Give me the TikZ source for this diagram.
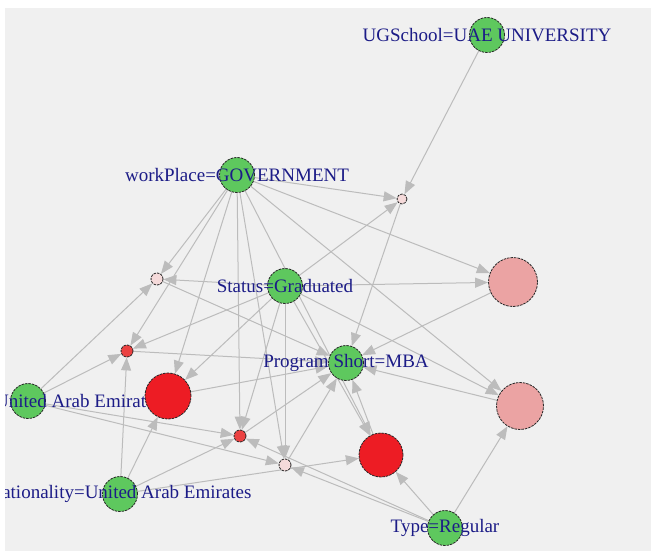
\documentclass[tikz,border=0pt]{standalone}
\usepackage{fontspec}
\setmainfont{Liberation Serif}
\usetikzlibrary{arrows.meta}
\definecolor{panelgray}{RGB}{240,240,240}
\definecolor{linkgray}{RGB}{188,188,188}
\definecolor{itemgreen}{RGB}{94,200,94}
\definecolor{rulered}{RGB}{237,28,36}
\definecolor{rulemid}{RGB}{235,66,66}
\definecolor{rulepink}{RGB}{235,163,163}
\definecolor{rulepale}{RGB}{245,218,218}
\definecolor{lbltext}{RGB}{28,28,135}
\pgfdeclarelayer{back}
\pgfdeclarelayer{wires}
\pgfsetlayers{back,wires,main}

\begin{document}
\begin{tikzpicture}[x=1pt,y=-1pt,
  item/.style={circle,fill=itemgreen,draw=black!85,line width=0.8pt,dash pattern=on 2.5pt off 1pt,minimum size=35pt,inner sep=0pt},
  rule/.style={circle,draw=black!85,line width=0.8pt,dash pattern=on 2.5pt off 1pt,minimum size=#1,inner sep=0pt},
  lbl/.style={text=lbltext,font=\fontsize{19}{22}\selectfont,inner sep=0pt},
  link/.style={draw=linkgray,line width=1pt,-{Triangle[length=13pt,width=10pt]}}]
  \useasboundingbox (0,0) rectangle (651,551);
  \begin{pgfonlayer}{back}
    \fill[white] (0,0) rectangle (651,551);
    \fill[panelgray] (5,8) rectangle (651,551);
  \end{pgfonlayer}
  \begin{scope}
  \clip (5,8) rectangle (651,551);
  % items
  \node[item] (UGS) at (487,35) {};
  \node[item] (WP) at (237,175) {};
  \node[item] (ST) at (285,286) {};
  \node[item] (PS) at (346,363) {};
  \node[item] (UAE) at (28,401) {};
  \node[item] (NAT) at (120,494) {};
  \node[item] (TYP) at (445,528) {};
  \node[lbl] (UGSl) at (UGS) {UGSchool=UAE UNIVERSITY};
  \node[lbl] (WPl) at (WP) {workPlace=GOVERNMENT};
  \node[lbl] (STl) at (ST) {Status=Graduated};
  \node[lbl] (PSl) at (PS) {Program Short=MBA};
  \node[lbl,anchor=west] (UAEl) at (-5,401) {United Arab Emirates};
  \node[lbl] (NATl) at (NAT) {Nationality=United Arab Emirates};
  \node[lbl] (TYPl) at (TYP) {Type=Regular};
  % rules
  \node[rule=10pt,fill=rulepale] (R1) at (402,199) {};
  \node[rule=12pt,fill=rulepale] (R2) at (157,279) {};
  \node[rule=12pt,fill=rulemid] (R3) at (127,351) {};
  \node[rule=46pt,fill=rulered] (R4) at (168,396) {};
  \node[rule=12pt,fill=rulemid] (R5) at (240,436) {};
  \node[rule=12pt,fill=rulepale] (R6) at (285,465) {};
  \node[rule=44pt,fill=rulered] (R7) at (381,455) {};
  \node[rule=49pt,fill=rulepink] (R8) at (513,282) {};
  \node[rule=47pt,fill=rulepink] (R9) at (520,406) {};
  \end{scope}
  \begin{pgfonlayer}{wires}
    \foreach \r in {R1,R2,R3,R4,R5,R6,R7,R8,R9} {
      \draw[link] (WP) -- (\r);
      \draw[link] (ST) -- (\r);
      \draw[link] (\r) -- (PS);
    }
    \draw[link] (UGS) -- (R1);
    \foreach \r in {R2,R3,R5,R6} \draw[link] (UAE) -- (\r);
    \foreach \r in {R3,R4,R5,R7} \draw[link] (NAT) -- (\r);
    \foreach \r in {R5,R6,R7,R9} \draw[link] (TYP) -- (\r);
  \end{pgfonlayer}
\end{tikzpicture}
\end{document}
